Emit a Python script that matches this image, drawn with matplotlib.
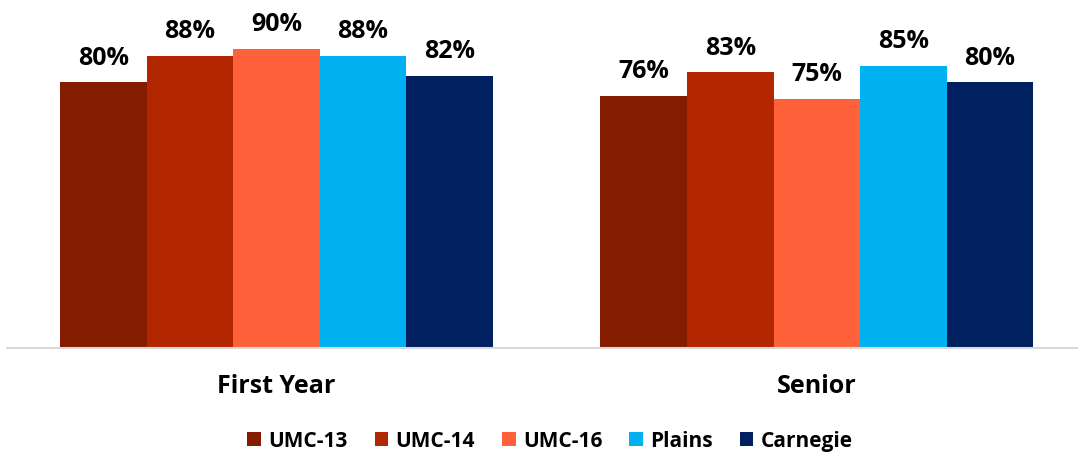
import numpy as np
import matplotlib.pyplot as plt
from matplotlib.patches import Patch

plt.rcParams['font.family'] = ['Open Sans', 'DejaVu Sans']
plt.rcParams['font.weight'] = 'bold'

categories = ['First Year', 'Senior']
series = ['UMC-13', 'UMC-14', 'UMC-16', 'Plains', 'Carnegie']
values = {
    'UMC-13': [80, 76],
    'UMC-14': [88, 83],
    'UMC-16': [90, 75],
    'Plains': [88, 85],
    'Carnegie': [82, 80],
}
colors = ['#841C00', '#B22600', '#FF623A', '#00B0F0', '#002060']

fig = plt.figure(figsize=(10.78, 4.56), dpi=100)
ax = fig.add_axes([7 / 1078, 107 / 456, 1071 / 1078, 332 / 456])

x = np.arange(len(categories))
w = 0.1602
for i, s in enumerate(series):
    pos = x + (i - 2) * w
    bars = ax.bar(pos, values[s], width=w, color=colors[i], label=s)
    for b, v in zip(bars, values[s]):
        ax.annotate('%d%%' % v, (b.get_x() + w / 2, v), xytext=(0, 13.5),
                    textcoords='offset points', ha='center', va='baseline',
                    fontsize=18, fontweight='bold')

ax.set_xlim(-0.4986, 1.483)
ax.set_ylim(0, 100)
ax.set_yticks([])
ax.set_xticks(x)
ax.set_xticklabels(categories, fontsize=18, fontweight='bold')
ax.tick_params(axis='x', length=0, pad=18)
for sp in ['top', 'right', 'left']:
    ax.spines[sp].set_visible(False)
ax.spines['bottom'].set_color('#D9D9D9')
ax.spines['bottom'].set_linewidth(1.5)

handles = [Patch(facecolor=c, label=s) for c, s in zip(colors, series)]
fig.legend(handles=handles, loc='center', bbox_to_anchor=(550 / 1078, 1 - 442 / 456),
           ncol=5, frameon=False, handlelength=0.65, handleheight=0.65,
           handletextpad=0.35, columnspacing=1.3, prop={'weight': 'bold', 'size': 15})

fig.savefig('out.png', dpi=100)
